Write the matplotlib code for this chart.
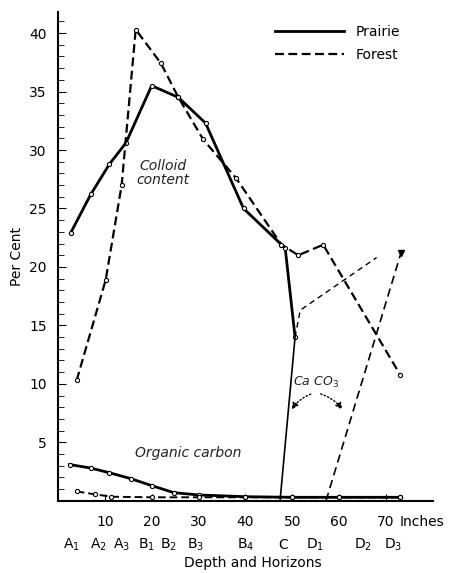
import numpy as np
import matplotlib
matplotlib.use("Agg")
import matplotlib.pyplot as plt

# COLLOID CONTENT (PER CENT) VS DEPTH (INCHES)
prairie_depth = [2.7, 7, 11, 14.5, 20, 25.7, 31.5, 39.6, 48.5, 50.6]
prairie_colloid = [22.9, 26.2, 28.8, 30.6, 35.5, 34.5, 32.3, 25.0, 21.6, 14.0]
forest_depth = [4, 10.2, 13.6, 16.6, 22, 25.7, 31, 38, 47.7, 51.3, 56.6, 73]
forest_colloid = [10.3, 18.9, 27.0, 40.3, 37.4, 34.5, 30.9, 27.6, 21.9, 21.0, 21.9, 10.8]

# ORGANIC CARBON
prairie_oc_depth = [2.5, 7, 11, 15.5, 20, 24.7, 30, 40, 50, 60, 73]
prairie_oc = [3.1, 2.8, 2.4, 1.9, 1.3, 0.7, 0.5, 0.35, 0.3, 0.3, 0.3]
forest_oc_depth = [4, 8, 11.3, 20, 30, 40, 50, 60, 73]
forest_oc = [0.8, 0.55, 0.35, 0.3, 0.3, 0.3, 0.3, 0.3, 0.3]

# CALCIUM CARBONATE
prairie_ca_depth = [47.4, 50.6]
prairie_ca = [0.0, 14.0]
prairie_ca_ext_depth = [50.6, 51.7, 68]
prairie_ca_ext = [14.0, 16.3, 20.8]
forest_ca_depth = [57.2, 73.2]
forest_ca = [0.0, 21.2]

depth_ticks = [10, 20, 30, 40, 50, 60, 70]
horizons = ["A$_1$", "A$_2$", "A$_3$", "B$_1$", "B$_2$", "B$_3$", "B$_4$", "C", "D$_1$", "D$_2$", "D$_3$"]
horizon_depth = [2.8, 8.7, 13.6, 18.9, 23.6, 29.4, 40, 48, 54.9, 65.1, 71.5]

plt.rcParams['font.family'] = ['DejaVu Sans']
fig = plt.figure(figsize=(4.49, 5.73), dpi=100)
ax = fig.add_axes([0.129, 0.126, 0.835, 0.853])

mk = dict(marker='o', markersize=3, markerfacecolor='white', markeredgewidth=0.8)
ax.plot(prairie_depth, prairie_colloid, color='black', lw=2, label="Prairie", **mk)
ax.plot(forest_depth, forest_colloid, color='black', lw=1.6, ls=(0, (4, 2)), label="Forest", **mk)
ax.plot(prairie_oc_depth, prairie_oc, color='black', lw=2, **mk)
ax.plot(forest_oc_depth, forest_oc, color='black', lw=1.4, ls=(0, (4, 2)), **mk)
ax.plot(prairie_ca_depth, prairie_ca, color='black', lw=1.2)
ax.plot(prairie_ca_ext_depth, prairie_ca_ext, color='black', lw=1.0, ls=(0, (4, 3)))
ax.plot(forest_ca_depth, forest_ca, color='black', lw=1.2, ls=(0, (5, 3)))
ax.plot(forest_ca_depth[-1:], forest_ca[-1:], color='black', marker='v', markersize=5, ls='none')

ax.text(22.5, 28, "Colloid\ncontent", fontsize=10, style='italic', ha='center', va='center',
        linespacing=1.0, color='#222222')
ax.text(27.9, 4.1, "Organic carbon", fontsize=10, style='italic', ha='center', va='center', color='#222222')
ax.text(55, 10.1, "Ca CO$_3$", fontsize=9, style='italic', ha='center', va='center', color='#222222')
ax.annotate("", xy=(49.6, 7.6), xytext=(54.5, 9.2),
            arrowprops=dict(arrowstyle='-|>', ls=':', lw=1, color='black', connectionstyle='arc3,rad=0.2'))
ax.annotate("", xy=(61.0, 7.6), xytext=(55.5, 9.2),
            arrowprops=dict(arrowstyle='-|>', ls=':', lw=1, color='black', connectionstyle='arc3,rad=-0.2'))

ax.set_xlim(0, 80)
ax.set_ylim(0, 41.8)
ax.spines['top'].set_visible(False)
ax.spines['right'].set_visible(False)
ax.spines['left'].set_linewidth(1.5)
ax.spines['bottom'].set_linewidth(1.5)

ax.set_yticks([5, 10, 15, 20, 25, 30, 35, 40])
ax.set_yticks(np.arange(1, 42), minor=True)
ax.set_xticks(depth_ticks)
ax.set_xticklabels([str(d) for d in depth_ticks])
ax.tick_params(axis='y', which='major', direction='in', length=6, labelsize=10, pad=8)
ax.tick_params(axis='y', which='minor', direction='in', length=4)
ax.tick_params(axis='x', which='major', direction='in', length=5, labelsize=10, pad=10)

xt = ax.get_xaxis_transform()
ax.text(72.9, -0.044, "Inches", fontsize=10, ha='left', va='center', transform=xt, clip_on=False)
for h, d in zip(horizons, horizon_depth):
    ax.text(d, -0.09, h, fontsize=10, ha='center', va='center', transform=xt, clip_on=False)
ax.text(41.5, -0.127, "Depth and Horizons", fontsize=10, ha='center', va='center', transform=xt, clip_on=False)
ax.set_ylabel("Per Cent", fontsize=10, labelpad=4)

leg = ax.legend(loc='upper right', bbox_to_anchor=(0.945, 1.0), frameon=False, handlelength=5,
                fontsize=10, labelspacing=0.65)
for h in leg.legend_handles:
    h.set_marker('')

plt.savefig("out.png", dpi=100)
